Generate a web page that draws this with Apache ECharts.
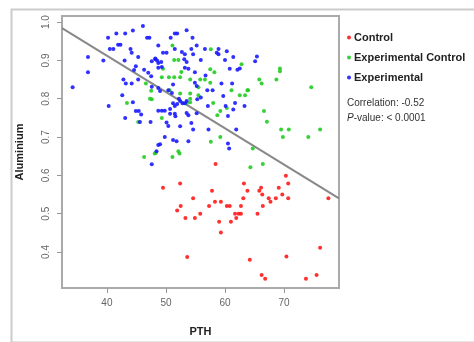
<!DOCTYPE html>
<html>
<head>
<meta charset="utf-8">
<script src="https://cdn.jsdelivr.net/npm/echarts@6/dist/echarts.min.js"></script>
<style>
html,body{margin:0;padding:0;background:#fff}
#chart{width:474px;height:342px}
</style>
</head>
<body>
<div id="chart"></div>
<script>
// PTH vs Aluminium, three groups
const seriesNames = ['Control', 'Experimental Control', 'Experimental']
const xTicks = [40, 50, 60, 70]
const yTicks = [0.4, 0.5, 0.6, 0.7, 0.8, 0.9, 1.0]
const fitIntercept = 1.291
const fitSlope = -0.00947
const corrText = 'Correlation: -0.52'
const pText = '< 0.0001'

const controlPts = [
  [58.4,0.630],[49.5,0.568],[52.4,0.579],[57.8,0.560],[54.6,0.540],[52.5,0.520],[51.9,0.508],
  [53.3,0.489],[54.9,0.489],[55.8,0.500],[57.3,0.520],[58.3,0.531],[59.3,0.531],[60.3,0.520],
  [60.8,0.520],[59.0,0.479],[59.3,0.451],[61.0,0.479],[61.9,0.489],[61.7,0.500],[62.3,0.500],
  [62.7,0.500],[62.7,0.520],[63.1,0.540],[63.8,0.560],[63.2,0.579],[53.6,0.387],[64.2,0.380],
  [70.3,0.599],[70.7,0.579],[69.1,0.568],[66.1,0.568],[65.8,0.560],[66.3,0.550],[69.7,0.550],
  [67.4,0.540],[67.7,0.531],[68.6,0.540],[70.7,0.540],[66.4,0.520],[65.5,0.500],[77.5,0.540],
  [76.1,0.411],[70.4,0.388],[66.2,0.340],[66.8,0.330],[73.7,0.330],[75.5,0.340]
]
const expControlPts = [
  [51.1,0.939],[57.6,0.929],[51.4,0.901],[52.1,0.901],[49.5,0.878],[52.6,0.870],[57.5,0.877],
  [58.2,0.869],[62.8,0.890],[49.3,0.856],[50.5,0.856],[51.4,0.856],[52.4,0.856],[54.1,0.850],
  [55.8,0.850],[56.6,0.850],[55.5,0.830],[57.5,0.842],[61.1,0.822],[62.5,0.809],[63.4,0.809],
  [63.8,0.822],[52.4,0.814],[54.1,0.814],[54.1,0.800],[54.1,0.791],[53.5,0.788],[55.5,0.809],
  [58.0,0.789],[60.3,0.776],[59.2,0.768],[58.7,0.757],[49.3,0.750],[59.2,0.700],[57.6,0.688],
  [52.1,0.663],[51.1,0.648],[52.3,0.657],[48.1,0.657],[46.3,0.648],[48.3,0.659],[64.3,0.621],
  [66.4,0.630],[64.7,0.670],[63.9,0.822],[65.8,0.850],[66.2,0.840],[69.3,0.879],[69.3,0.872],
  [68.7,0.850],[74.6,0.830],[66.6,0.768],[67.1,0.740],[69.5,0.720],[70.8,0.720],[69.8,0.700],
  [74.1,0.700],[76.1,0.720],[46.6,0.840],[47.5,0.821],[47.3,0.800],[43.4,0.789],[45.3,0.739],
  [47.6,0.799],[50.6,0.822]
]
const experimentalPts = [
  [46.1,0.990],[44.4,0.978],[43.1,0.970],[41.6,0.970],[40.2,0.959],[46.8,0.959],[47.2,0.959],
  [41.9,0.941],[42.3,0.941],[40.5,0.930],[41.1,0.930],[44.0,0.930],[44.2,0.920],[36.8,0.909],
  [39.4,0.900],[43.0,0.900],[45.3,0.909],[44.9,0.885],[47.6,0.898],[48.2,0.903],[46.3,0.876],
  [47.0,0.868],[44.6,0.875],[36.8,0.869],[47.5,0.859],[42.8,0.850],[43.2,0.840],[44.2,0.840],
  [45.3,0.850],[34.2,0.830],[47.6,0.831],[42.6,0.809],[44.4,0.791],[40.3,0.781],[44.9,0.768],
  [45.4,0.768],[45.8,0.759],[43.1,0.750],[45.6,0.739],[47.4,0.739],[47.6,0.629],[48.7,0.679],
  [53.5,0.979],[51.5,0.970],[51.9,0.970],[50.8,0.959],[54.5,0.959],[55.2,0.939],[48.7,0.939],
  [51.5,0.930],[54.3,0.930],[56.6,0.930],[58.9,0.930],[49.5,0.920],[50.1,0.920],[52.7,0.922],
  [53.2,0.916],[54.6,0.916],[58.6,0.920],[58.9,0.916],[60.3,0.924],[48.2,0.905],[48.5,0.900],
  [48.7,0.893],[49.2,0.896],[53.1,0.903],[53.5,0.896],[55.9,0.901],[60.0,0.901],[61.4,0.909],
  [48.7,0.881],[49.3,0.883],[53.2,0.881],[53.8,0.878],[54.9,0.869],[60.8,0.878],[56.7,0.861],
  [62.1,0.876],[51.2,0.837],[54.9,0.842],[55.2,0.833],[59.4,0.840],[61.2,0.840],[48.7,0.828],
  [49.0,0.820],[50.4,0.822],[51.0,0.815],[52.2,0.800],[55.9,0.803],[55.3,0.799],[59.7,0.807],
  [61.7,0.789],[63.3,0.781],[57.1,0.781],[60.1,0.781],[51.2,0.788],[51.5,0.781],[51.9,0.786],
  [52.4,0.794],[52.8,0.788],[53.2,0.788],[53.5,0.794],[48.7,0.769],[49.3,0.769],[49.8,0.769],
  [50.7,0.773],[50.7,0.761],[51.5,0.761],[51.6,0.754],[53.5,0.763],[53.8,0.757],[55.2,0.762],
  [61.4,0.772],[60.5,0.755],[50.1,0.738],[50.4,0.729],[52.4,0.728],[54.3,0.737],[57.2,0.720],
  [49.8,0.700],[49.0,0.681],[51.8,0.689],[53.8,0.689],[60.5,0.683],[48.4,0.663],
  [65.4,0.910],[65.1,0.898],[62.5,0.879],[61.9,0.720],[60.7,0.670],[57.0,0.822],[57.9,0.822],
  [54.6,0.720],[51.2,0.692]
]

const xMin = 32.4, xMax = 79.3
const yMin = 0.306, yMax = 1.016
const colors = ['#ff1a1a', '#22cc22', '#1a1aff']

const myChart = echarts.init(document.getElementById('chart'))

const scatter = (name, data, color) => ({
  name: name,
  type: 'scatter',
  data: data,
  symbol: 'circle',
  symbolSize: 4,
  itemStyle: { color: color, opacity: 0.9 },
  silent: true,
  z: 3
})

const option = {
  animation: false,
  backgroundColor: '#fff',
  grid: {
    left: 62, top: 16, width: 277, height: 272,
    show: true, borderColor: '#aaa', borderWidth: 2
  },
  xAxis: {
    type: 'value', min: xMin, max: xMax,
    axisLine: { show: false },
    splitLine: { show: false },
    axisTick: { show: true, customValues: xTicks, length: 5, lineStyle: { color: '#999', width: 1 } },
    axisLabel: { customValues: xTicks, color: '#666', fontSize: 10, fontFamily: 'Liberation Sans', margin: 10 },
    name: 'PTH', nameLocation: 'middle', nameGap: 38,
    nameTextStyle: { fontWeight: 'bold', fontSize: 11, color: '#222', fontFamily: 'Liberation Sans' }
  },
  yAxis: {
    type: 'value', min: yMin, max: yMax,
    axisLine: { show: false },
    splitLine: { show: false },
    axisTick: { show: true, customValues: yTicks, length: 5, lineStyle: { color: '#999', width: 1 } },
    axisLabel: {
      customValues: yTicks, rotate: 90, color: '#666', fontSize: 10, fontFamily: 'Liberation Sans', margin: 11,
      formatter: v => v.toFixed(1)
    },
    name: 'Aluminium', nameLocation: 'middle', nameGap: 37,
    nameTextStyle: { fontWeight: 'bold', fontSize: 11, color: '#222', fontFamily: 'Liberation Sans' }
  },
  legend: {
    orient: 'vertical', left: 342, top: 27, itemGap: 9,
    icon: 'circle', itemWidth: 4, itemHeight: 4,
    data: seriesNames,
    selectedMode: false,
    textStyle: { fontWeight: 'bold', fontSize: 11, color: '#222', fontFamily: 'Liberation Sans', padding: [0, 0, 0, -2] }
  },
  graphic: [
    { type: 'rect', left: 9, top: 7, shape: { width: 480, height: 333 }, style: { fill: 'none', stroke: '#ccc', lineWidth: 2 }, silent: true },
    { type: 'text', left: 347, top: 98, style: { text: corrText, fontSize: 10, fill: '#333', fontFamily: 'Liberation Sans' } },
    { type: 'text', left: 347, top: 113, style: {
      text: '{i|P}-value: ' + pText,
      fontSize: 10, fill: '#333', fontFamily: 'Liberation Sans',
      rich: { i: { fontStyle: 'italic', fontSize: 10, fill: '#333', fontFamily: 'Liberation Sans' } }
    } }
  ],
  series: [
    scatter(seriesNames[0], controlPts, colors[0]),
    scatter(seriesNames[1], expControlPts, colors[1]),
    scatter(seriesNames[2], experimentalPts, colors[2]),
    {
      type: 'line',
      data: [[xMin, fitIntercept + fitSlope * xMin], [xMax, fitIntercept + fitSlope * xMax]],
      symbol: 'none',
      lineStyle: { color: '#888', width: 2 },
      silent: true,
      z: 2
    }
  ]
}
myChart.setOption(option)
</script>
</body>
</html>
